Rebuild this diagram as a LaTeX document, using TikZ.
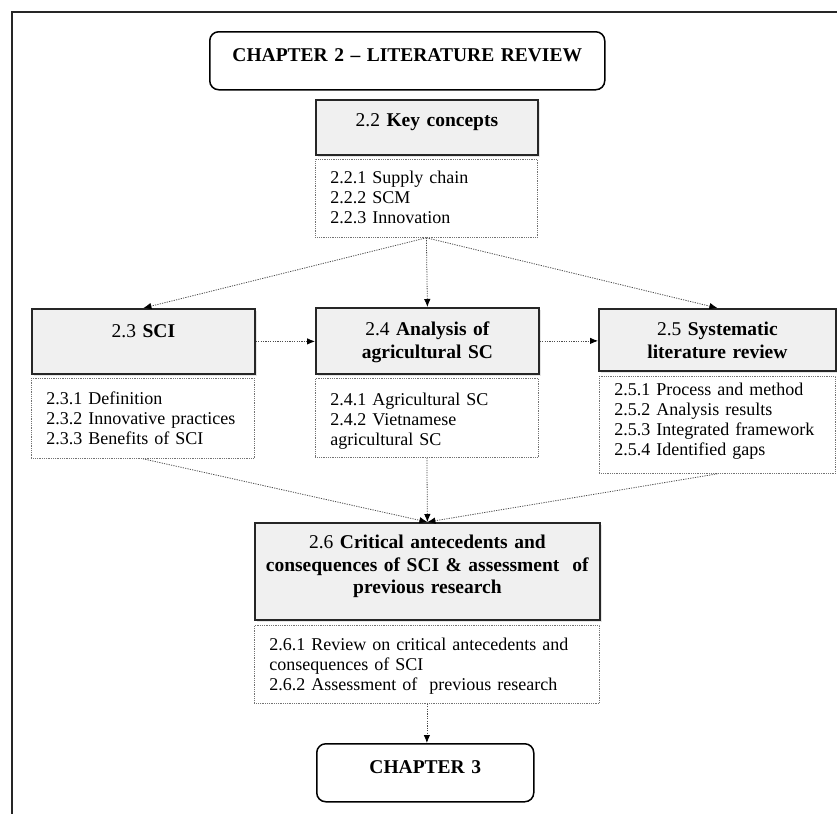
\documentclass[tikz,border=0pt]{standalone}
\usepackage{fontspec}
\setmainfont{Liberation Serif}
\usetikzlibrary{arrows.meta, shadows}

\tikzset{
  chapbox/.style={draw=black, line width=1.5pt, rounded corners=9pt, anchor=north west, inner xsep=0pt, inner ysep=0pt, align=center, font=\fontsize{19.5}{22.5}\selectfont\bfseries},
  headbox/.style={draw=black!85, line width=1.8pt, fill=black!6, drop shadow={shadow xshift=2pt, shadow yshift=-2pt, opacity=0.2}, anchor=north west, inner xsep=0pt, inner ysep=0pt, align=center, font=\fontsize{19.5}{22.5}\selectfont},
  listbox/.style={draw=black!55, line width=0.8pt, densely dotted, anchor=north west, inner xsep=15pt, inner ysep=0pt, align=left, font=\fontsize{18}{20}\selectfont},
  flow/.style={draw=black!70, line width=0.8pt, dash pattern=on 1.2pt off 1.2pt, -{Latex[length=8pt,width=6.5pt,black]}}
}

\begin{document}
\begin{tikzpicture}[x=1pt, y=-1pt]
\useasboundingbox (0,0) rectangle (837,814);

%frame
\draw[line width=1.5pt, black!85] (837,12) -- (12,12) -- (12,814);

%chapter boxes
\node[chapbox, text width=395pt, text height=30pt, text depth=28pt] (ch2) at (209,31) {CHAPTER 2 -- LITERATURE REVIEW};
\node[chapbox, text width=217pt, text height=30pt, text depth=28pt] (ch3) at (316,743) {CHAPTER 3};

%section boxes
\node[headbox, text width=222pt, text height=27pt, text depth=28pt] (kc) at (315,99) {2.2 \textbf{Key concepts}};
\node[headbox, text width=223pt, text height=29pt, text depth=36pt] (sci) at (31,308) {2.3 \textbf{SCI}};
\node[headbox, text width=223pt, text height=28pt, text depth=38pt] (an) at (315,307) {2.4 \textbf{Analysis of}\\\textbf{agricultural SC}};
\node[headbox, text width=237pt, text height=27pt, text depth=35pt] (slr) at (598,308) {2.5 \textbf{Systematic}\\\textbf{literature review}};
\node[headbox, text width=345pt, text height=26pt, text depth=71pt] (crit) at (254,522) {2.6 \textbf{Critical antecedents and}\\\textbf{consequences of SCI \& assessment\ \ of}\\\textbf{previous research}};

%subsection lists
\node[listbox, text width=192pt, text height=24pt, text depth=54pt] (kclist) at (315,159) {2.2.1 Supply chain\\2.2.2 SCM\\2.2.3 Innovation};
\node[listbox, text width=193pt, text height=26pt, text depth=54pt] (scilist) at (31,378) {2.3.1 Definition\\2.3.2 Innovative practices\\2.3.3 Benefits of SCI};
\node[listbox, text width=193pt, text height=27pt, text depth=52pt] (anlist) at (315,378) {2.4.1 Agricultural SC\\2.4.2 Vietnamese\\agricultural SC};
\node[listbox, text width=206pt, text height=19pt, text depth=78pt] (slrlist) at (599,376) {2.5.1 Process and method\\2.5.2 Analysis results\\2.5.3 Integrated framework\\2.5.4 Identified gaps};
\node[listbox, text width=315pt, text height=25pt, text depth=53pt] (critlist) at (254,625) {2.6.1 Review on critical antecedents and\\consequences of SCI\\2.6.2 Assessment of\ \ previous research};

%arrows
\draw[flow] (kclist.south) -- (sci.north);
\draw[flow] (kclist.south) -- (an.north);
\draw[flow] (kclist.south) -- (slr.north);
\draw[flow] (sci.east) -- (sci.east -| an.west);
\draw[flow] (an.east) -- (an.east -| slr.west);
\draw[flow] (scilist.south) -- (crit.north);
\draw[flow] (anlist.south) -- (crit.north);
\draw[flow] (slrlist.south) -- (crit.north);
\draw[flow] (critlist.south) -- (critlist.south |- ch3.north);

\end{tikzpicture}
\end{document}
